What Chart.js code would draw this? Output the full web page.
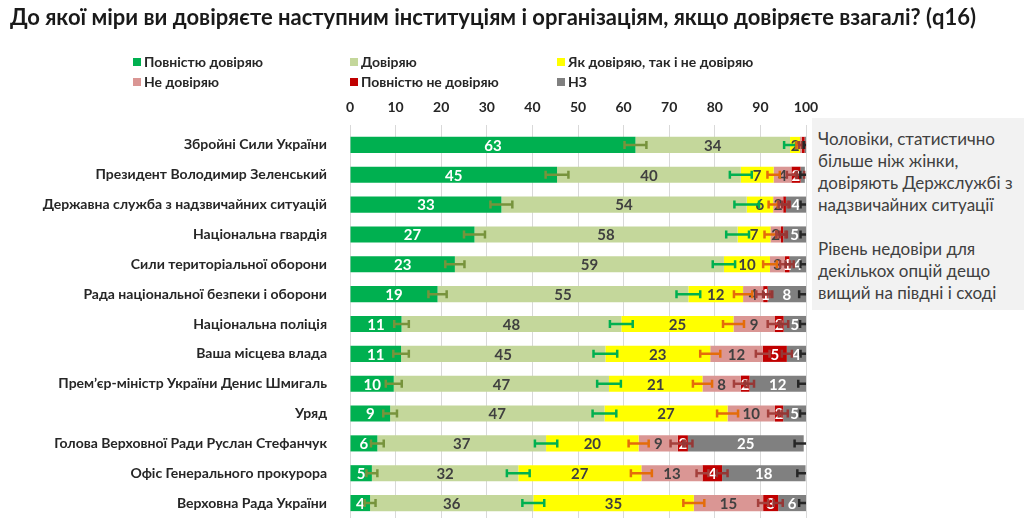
<!DOCTYPE html>
<html><head><meta charset="utf-8">
<script src="https://cdn.jsdelivr.net/npm/chart.js@4.4.1/dist/chart.umd.min.js"></script>
<style>
html,body{margin:0;padding:0;background:#fff;}
#wrap{position:relative;width:1024px;height:522px;overflow:hidden;}
#title{position:absolute;left:10px;top:3px;font:bold 22px Lato,'Open Sans',sans-serif;color:#1a1a1a;white-space:nowrap;}
#note{position:absolute;left:812px;top:118px;width:212px;height:192px;background:#f2f2f2;padding-left:6px;font:17px Lato,'Open Sans',sans-serif;color:#404040;line-height:22px;padding-top:10px;box-sizing:border-box;white-space:nowrap;}
</style>
</head><body><div id="wrap">
<canvas id="c" width="1024" height="522"></canvas>
<div id="title">До якої міри ви довіряєте наступним інституціям і організаціям, якщо довіряєте взагалі? (q16)</div>
<div id="note">Чоловіки, статистично<br>більше ніж жінки,<br>довіряють Держслужбі з<br>надзвичайних ситуації<br><br>Рівень недовіри для<br>декількох опцій дещо<br>вищий на півдні і сході</div>
</div>
<script>
const categories = [
  'Збройні Сили України',
  'Президент Володимир Зеленський',
  'Державна служба з надзвичайних ситуацій',
  'Національна гвардія',
  'Сили територіальної оборони',
  'Рада національної безпеки і оборони',
  'Національна поліція',
  'Ваша місцева влада',
  'Прем\u2019єр-міністр України Денис Шмигаль',
  'Уряд',
  'Голова Верховної Ради Руслан Стефанчук',
  'Офіс Генерального прокурора',
  'Верховна Рада України'
];
const seriesNames = ['Повністю довіряю','Довіряю','Як довіряю, так і не довіряю','Не довіряю','Повністю не довіряю','НЗ'];
const fullTrust    = [62.6,45.4,33.2,27.3,23.0,19.2,11.3,11.2,9.6,8.8,6.0,4.8,4.4];
const trust        = [33.9,40.3,53.8,57.7,59.0,55.0,48.2,44.8,47.2,47.0,37.0,32.1,35.8];
const neutral      = [2.2,7.2,5.8,7.2,10.1,12.0,24.6,23.0,20.5,27.0,20.3,27.0,35.2];
const distrust     = [0.4,3.9,2.2,2.3,3.3,4.4,9.0,11.5,8.4,10.4,8.6,13.4,15.2];
const fullDistrust = [0.6,2.0,0.6,0.5,1.0,1.0,2.0,5.3,1.9,1.8,2.2,4.3,3.3];
const dontKnow     = [0.3,0.95,4.4,5.0,3.6,8.4,4.9,4.2,12.4,5.0,25.4,18.3,6.1];
// error margins (+/-) at the end of each cumulative segment
const errFullTrust    = [2.4,2.5,2.4,2.3,2.1,2.0,1.6,1.7,1.75,1.5,1.4,1.2,1.2];
const errTrust        = [1.3,2.4,2.7,2.5,2.45,2.6,2.5,2.6,2.6,2.6,2.45,2.5,2.4];
const errNeutral      = [0.8,1.35,1.0,1.3,1.5,2.0,2.3,2.2,2.1,2.3,2.2,2.3,2.3];
const errDistrust     = [0.6,1.0,1.0,1.0,1.1,1.5,1.5,1.5,1.5,1.5,1.6,1.3,1.1];
const errFullDistrust = [0.5,0.8,0.8,0.8,0.9,1.0,1.0,1.1,1.0,1.0,1.0,1.2,1.0];
const errDontKnow     = [0.5,1.0,1.2,1.2,1.2,1.5,1.3,1.2,1.7,1.3,2.0,1.8,1.5];
const xTicks = [0,10,20,30,40,50,60,70,80,90,100];

const FONT = "Lato, 'Open Sans', sans-serif";
const seriesValues = [fullTrust, trust, neutral, distrust, fullDistrust, dontKnow];
const seriesErrors = [errFullTrust, errTrust, errNeutral, errDistrust, errFullDistrust, errDontKnow];
const barColors = ['#00b050','#c4d79b','#ffff00','#da9694','#c00000','#808080'];
const labelColors = ['#ffffff','#404040','#404040','#404040','#ffffff','#ffffff'];
const errColors = ['#77933c','#00b050','#e46c0a','#a5403c','#953735','#262626'];

const legendPlugin = {
  id: 'customLegend',
  afterDraw(chart) {
    const ctx = chart.ctx;
    const cols = [133, 350, 557];
    const rows = [62, 82];
    ctx.save();
    ctx.font = 'bold 14px ' + FONT;
    ctx.textBaseline = 'middle';
    chart.data.datasets.forEach((ds, i) => {
      const x = cols[i % 3], y = rows[Math.floor(i / 3)];
      ctx.fillStyle = ds.backgroundColor;
      ctx.fillRect(x, y - 4, 8, 8);
      ctx.fillStyle = '#262626';
      ctx.fillText(ds.label, x + 11, y);
    });
    ctx.restore();
  }
};

const labelsAndErrors = {
  id: 'labelsAndErrors',
  afterDatasetsDraw(chart) {
    const ctx = chart.ctx;
    const xs = chart.scales.x, ys = chart.scales.y;
    const area = chart.chartArea;
    ctx.save();
    ctx.font = 'bold 15px ' + FONT;
    ctx.textAlign = 'center';
    ctx.textBaseline = 'middle';
    chart.data.datasets.forEach((ds, di) => {
      const meta = chart.getDatasetMeta(di);
      meta.data.forEach((bar, i) => {
        const v = ds.data[i];
        if (v < 1) return;
        ctx.fillStyle = labelColors[di];
        ctx.fillText(String(Math.round(v)), bar.x - (bar.x - bar.base) / 2, bar.y + 1);
      });
    });
    ctx.beginPath();
    ctx.rect(area.left, area.top, area.right - area.left, area.bottom - area.top);
    ctx.clip();
    ctx.lineWidth = 2.5;
    categories.forEach((c, i) => {
      let cum = 0;
      const y = ys.getPixelForValue(i);
      seriesValues.forEach((arr, s) => {
        cum += arr[i];
        const e = seriesErrors[s][i];
        const x1 = xs.getPixelForValue(cum - e), x2 = xs.getPixelForValue(cum + e);
        ctx.strokeStyle = errColors[s];
        ctx.beginPath();
        ctx.moveTo(x1, y); ctx.lineTo(x2, y);
        ctx.moveTo(x1, y - 4); ctx.lineTo(x1, y + 4);
        ctx.moveTo(x2, y - 4); ctx.lineTo(x2, y + 4);
        ctx.stroke();
      });
    });
    ctx.restore();
  }
};

new Chart(document.getElementById('c'), {
  type: 'bar',
  data: {
    labels: categories,
    datasets: seriesNames.map((n, i) => ({
      label: n,
      data: seriesValues[i],
      backgroundColor: barColors[i],
      borderWidth: 0,
      barPercentage: 0.54,
      categoryPercentage: 1
    }))
  },
  options: {
    indexAxis: 'y',
    responsive: false,
    animation: false,
    events: [],
    layout: { padding: { left: 0, right: 218, top: 100, bottom: 4 } },
    plugins: { legend: { display: false }, title: { display: false }, tooltip: { enabled: false } },
    scales: {
      x: {
        position: 'top',
        stacked: true,
        min: 0, max: 100,
        afterBuildTicks(scale) { scale.ticks = xTicks.map(v => ({ value: v })); },
        afterFit(scale) { scale.height = 30; scale.paddingLeft = 0; scale.paddingRight = 0; },
        ticks: { font: { family: FONT, size: 14, weight: 'bold' }, color: '#262626', padding: 9 },
        grid: { color: '#d9d9d9', lineWidth: 1, drawTicks: true, tickLength: 5 },
        border: { display: false }
      },
      y: {
        stacked: true,
        afterFit(scale) { scale.width = 350; scale.paddingTop = 0; scale.paddingBottom = 0; },
        ticks: { font: { family: FONT, size: 14, weight: 'bold' }, color: '#262626', padding: 15 },
        grid: { display: false },
        border: { display: false }
      }
    }
  },
  plugins: [legendPlugin, labelsAndErrors]
});
</script>
</body></html>
